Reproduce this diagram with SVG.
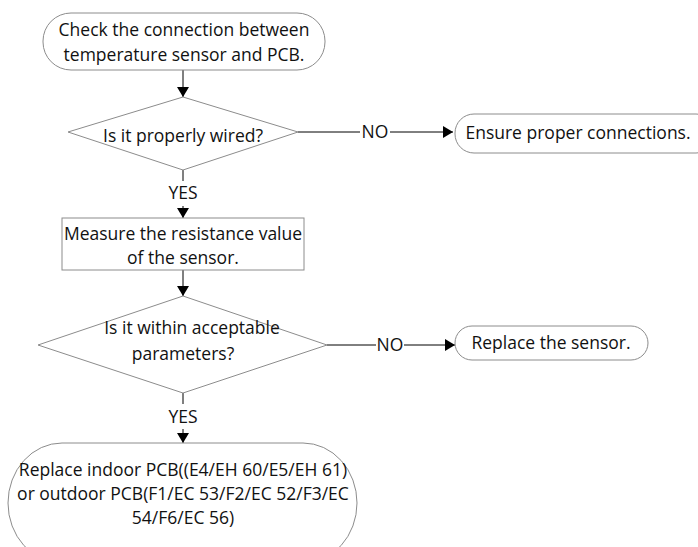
<svg xmlns="http://www.w3.org/2000/svg" width="698" height="547" viewBox="0 0 698 547">
<defs>
<marker id="arr" markerWidth="10" markerHeight="12" refX="10" refY="6" orient="auto" markerUnits="userSpaceOnUse"><path d="M0,0 L10,6 L0,12 Z" fill="#000"/></marker>
<style>
.n{fill:#fff;stroke:#8c8c8c;stroke-width:1}
.t{font-family:"Open Sans","Liberation Sans",sans-serif;font-size:17.5px;fill:#111;text-anchor:middle}
.c{stroke:#000;stroke-width:1;fill:none}
</style>
</defs>
<rect width="698" height="547" fill="#fff"/>
<g id="connectors">
<line class="c" x1="183" y1="70" x2="183" y2="97" marker-end="url(#arr)"/>
<line class="c" x1="298" y1="132" x2="360" y2="132"/>
<line class="c" x1="390" y1="132" x2="453" y2="132" marker-end="url(#arr)"/>
<line class="c" x1="183" y1="170" x2="183" y2="181"/>
<line class="c" x1="183" y1="206" x2="183" y2="218" marker-end="url(#arr)"/>
<line class="c" x1="183" y1="270" x2="183" y2="296" marker-end="url(#arr)"/>
<line class="c" x1="327" y1="345" x2="376" y2="345"/>
<line class="c" x1="404" y1="345" x2="455" y2="345" marker-end="url(#arr)"/>
<line class="c" x1="183" y1="393" x2="183" y2="404"/>
<line class="c" x1="183" y1="429" x2="183" y2="443" marker-end="url(#arr)"/>
<text class="t" x="375" y="138">NO</text>
<text class="t" x="390" y="351">NO</text>
<text class="t" x="183" y="199">YES</text>
<text class="t" x="183" y="423">YES</text>
</g>
<g id="start">
<rect class="n" x="43" y="13" width="282" height="57" rx="28" ry="28"/>
<text class="t" x="184" y="36">Check the connection between</text>
<text class="t" x="184" y="61">temperature sensor and PCB.</text>
</g>
<g id="wired">
<polygon class="n" points="183,97 298,132 183,170 68,132"/>
<text class="t" x="183" y="142">Is it properly wired?</text>
</g>
<g id="ensure">
<rect class="n" x="455" y="114" width="260" height="39" rx="19" ry="19"/>
<text class="t" x="578" y="139">Ensure proper connections.</text>
</g>
<g id="measure">
<rect class="n" x="62" y="218" width="242" height="52"/>
<text class="t" x="183" y="240">Measure the resistance value</text>
<text class="t" x="183" y="264">of the sensor.</text>
</g>
<g id="within">
<polygon class="n" points="183,296 327,345 183,393 38,345"/>
<text class="t" x="192" y="334">Is it within acceptable</text>
<text class="t" x="183" y="360">parameters?</text>
</g>
<g id="replace-sensor">
<rect class="n" x="455" y="326" width="193" height="34" rx="17" ry="17"/>
<text class="t" x="551" y="349">Replace the sensor.</text>
</g>
<g id="replace-pcb">
<rect class="n" x="8" y="443" width="349" height="120" rx="54" ry="60"/>
<text class="t" x="183" y="476">Replace indoor PCB((E4/EH 60/E5/EH 61)</text>
<text class="t" x="183" y="500">or outdoor PCB(F1/EC 53/F2/EC 52/F3/EC</text>
<text class="t" x="183" y="524">54/F6/EC 56)</text>
</g>
</svg>
